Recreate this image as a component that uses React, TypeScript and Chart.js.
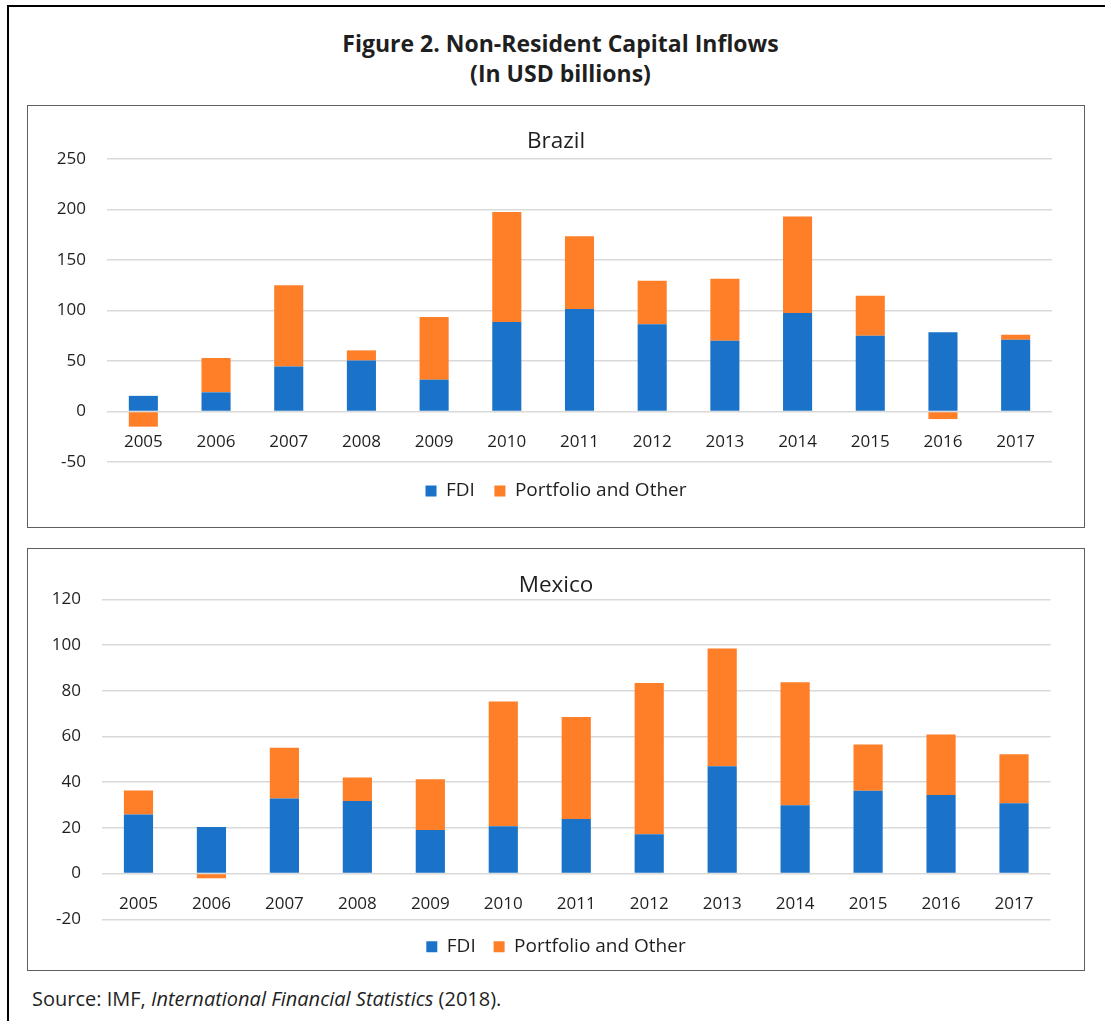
import React, { useEffect, useRef } from 'react';
import { Chart, registerables } from 'chart.js';

Chart.register(...registerables);

const years = ['2005', '2006', '2007', '2008', '2009', '2010', '2011', '2012', '2013', '2014', '2015', '2016', '2017'];

const brazilFDI = [15.5, 19, 44.5, 50.5, 31.5, 88.5, 101.5, 86.5, 70, 97.5, 75, 78.5, 71];
const brazilPortfolio = [-15, 34, 80.5, 10, 62, 109, 72, 43, 61.5, 95.5, 39.5, -7.5, 5];

const mexicoFDI = [25.8, 20.4, 32.8, 31.8, 19.1, 20.7, 23.9, 17.2, 47, 29.9, 36.2, 34.4, 30.8];
const mexicoPortfolio = [10.5, -2, 22.2, 10.2, 22.2, 54.6, 44.6, 66.2, 51.5, 53.8, 20.3, 26.4, 21.4];

const seriesNames = ['FDI', 'Portfolio and Other'];
const brazilTicks = { min: -50, max: 250, step: 50 };
const mexicoTicks = { min: -20, max: 120, step: 20 };

const BLUE = '#1a73c8';
const ORANGE = '#fe7f27';
const FONT = "'Open Sans', 'Noto Sans', sans-serif";
const TEXT = '#1f1f1f';

type PanelProps = {
  title: string;
  fdi: number[];
  portfolio: number[];
  ticks: { min: number; max: number; step: number };
  axisW: number;
  rightW: number;
  titleTop: number;
  titleBottom: number;
  legendPad: number;
  bottomPad: number;
  xPad: number;
};

function Panel(p: PanelProps) {
  const ref = useRef<HTMLCanvasElement | null>(null);
  useEffect(() => {
    if (!ref.current) return;
    const chart = new Chart(ref.current, {
      type: 'bar',
      data: {
        labels: years,
        datasets: [
          { label: seriesNames[0], data: p.fdi, backgroundColor: BLUE, borderWidth: 0, yAxisID: 'y' },
          { label: seriesNames[1], data: p.portfolio, backgroundColor: ORANGE, borderWidth: 0, yAxisID: 'y' },
        ],
      },
      options: {
        responsive: false,
        animation: false,
        maintainAspectRatio: false,
        layout: { padding: { left: 0, right: 0, top: 0, bottom: p.bottomPad } },
        datasets: { bar: { categoryPercentage: 1, barPercentage: 0.4 } },
        plugins: {
          title: {
            display: true,
            text: p.title,
            color: TEXT,
            font: { family: FONT, size: 22.5, weight: 'normal' },
            padding: { top: p.titleTop, bottom: p.titleBottom },
          },
          legend: {
            display: true,
            position: 'bottom',
            labels: {
              color: TEXT,
              font: { family: FONT, size: 19 },
              boxWidth: 11,
              boxHeight: 11,
              padding: p.legendPad,
            },
          },
          tooltip: { enabled: false },
        },
        scales: {
          x: {
            stacked: true,
            position: { y: 0 } as any,
            grid: { display: false, drawTicks: false },
            border: { display: false },
            ticks: { color: TEXT, font: { family: FONT, size: 17 }, padding: p.xPad, maxRotation: 0 },
          },
          y: {
            stacked: true,
            position: 'left',
            min: p.ticks.min,
            max: p.ticks.max,
            grid: { color: '#d9d9d9', lineWidth: 1.5, drawTicks: false },
            border: { display: false },
            ticks: { stepSize: p.ticks.step, color: TEXT, font: { family: FONT, size: 17 }, padding: 21 },
            afterFit: (s: any) => { s.width = p.axisW; },
          },
          y2: {
            position: 'right',
            display: true,
            grid: { display: false, drawTicks: false },
            border: { display: false },
            ticks: { display: false },
            afterFit: (s: any) => { s.width = p.rightW; },
          },
        },
      } as any,
    });
    return () => chart.destroy();
  }, []);
  return <canvas ref={ref} width={1056} height={421} style={{ width: 1056, height: 421, display: 'block' }} />;
}

export default function App() {
  const box: React.CSSProperties = {
    position: 'absolute',
    left: 27,
    width: 1056,
    height: 421,
    border: '1px solid #5f5f5f',
    background: '#fff',
  };
  return (
    <div style={{ position: 'absolute', left: 0, top: 0, width: 1105, height: 1021, background: '#fff', fontFamily: FONT, color: TEXT }}>
      <div style={{ position: 'absolute', left: 7, top: 5, right: 0, height: 2, background: '#000' }} />
      <div style={{ position: 'absolute', left: 7, top: 5, width: 2, bottom: 0, background: '#000' }} />
      <div style={{ position: 'absolute', left: 8, width: 1105, top: 28, textAlign: 'center', fontWeight: 700, fontSize: 23, lineHeight: '30px' }}>
        <div>Figure 2. Non-Resident Capital Inflows</div>
        <div>(In USD billions)</div>
      </div>
      <div style={{ ...box, top: 105 }}>
        <Panel title="Brazil" fdi={brazilFDI} portfolio={brazilPortfolio} ticks={brazilTicks}
          axisW={79} rightW={32} titleTop={22.5} titleBottom={3.5} legendPad={19.5} bottomPad={16.5} xPad={20.2} />
      </div>
      <div style={{ ...box, top: 548 }}>
        <Panel title="Mexico" fdi={mexicoFDI} portfolio={mexicoPortfolio} ticks={mexicoTicks}
          axisW={74} rightW={33.5} titleTop={23.2} titleBottom={0.1} legendPad={17.9} bottomPad={3.8} xPad={20.2} />
      </div>
      <div style={{ position: 'absolute', left: 32, top: 987, fontSize: 20, lineHeight: '24px', whiteSpace: 'nowrap' }}>
        Source: IMF, <i>International Financial Statistics</i> (2018).
      </div>
    </div>
  );
}
